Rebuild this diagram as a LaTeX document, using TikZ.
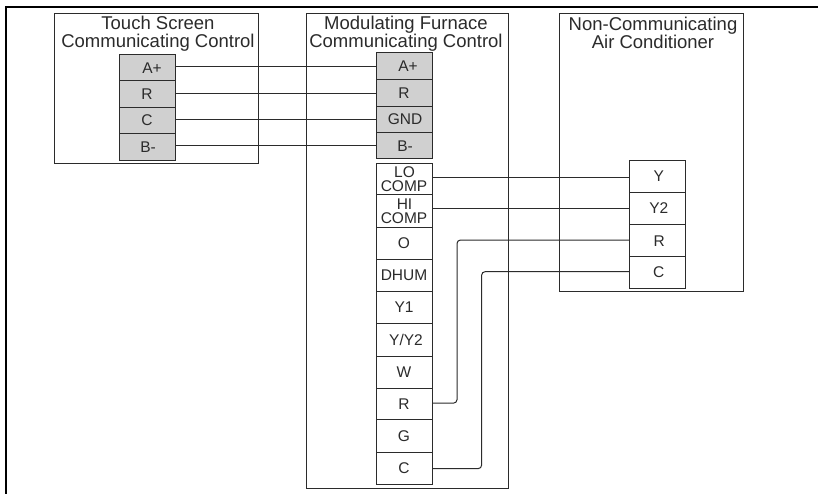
\documentclass[tikz,border=0pt]{standalone}
\usepackage{fontspec}
\setmainfont{Liberation Sans}
\definecolor{ink}{HTML}{2B2B2B}
\definecolor{termgray}{HTML}{D0D0D0}
\tikzset{
  unitbox/.style={draw=ink,line width=0.9pt,inner sep=0pt,outer sep=0pt,anchor=north west},
  unittitle/.style={inner sep=0pt,text=ink,align=center,anchor=center,font=\fontsize{18.5}{18}\selectfont},
  term/.style={draw=ink,line width=1pt,inner sep=0pt,outer sep=0pt,anchor=north west,minimum width=56pt,text=ink,align=center,font=\fontsize{15.5}{14}\selectfont},
  graybox/.style={term,fill=termgray},
  wire/.style={draw=ink,line width=1pt,rounded corners=3.5pt},
  frameline/.style={draw=black,line width=2pt}
}
\begin{document}
\begin{tikzpicture}[x=1pt,y=-1pt]
\useasboundingbox (0,0) rectangle (818,494);
\fill[white] (0,0) rectangle (818,494);
% outer frame
\draw[frameline] (6,494) -- (6,7.3) -- (818,7.3);
% unit boxes
\node[unitbox,minimum width=204.5pt,minimum height=150pt] (touch) at (54,13.5) {};
\node[unitbox,minimum width=202.5pt,minimum height=474.5pt] (furn) at (306,13.5) {};
\node[unitbox,minimum width=184pt,minimum height=278pt] (acu) at (559.5,13.5) {};
\node[unittitle] (touchtitle) at (158,33.8) {Touch Screen\\Communicating Control};
\node[unittitle] (furntitle) at (406,33.8) {Modulating Furnace\\Communicating Control};
\node[unittitle] (actitle) at (653,33.3) {Non-Communicating\\Air Conditioner};
% touch terminals
\node[graybox,minimum height=26pt] (ta) at (119,55) {\hspace*{10pt}A+};
\node[graybox,minimum height=26.5pt] (tr) at (119,81) {R};
\node[graybox,minimum height=26.5pt] (tc) at (119,107.5) {\raisebox{1pt}{C}};
\node[graybox,minimum height=26.7pt] (tb) at (119,134) {\hspace*{2pt}B-};
% furnace comm terminals
\node[graybox,minimum height=27pt] (fa) at (376,53) {\hspace*{8pt}A+};
\node[graybox,minimum height=26.5pt] (fr) at (376,80) {R};
\node[graybox,minimum height=26.2pt] (fg) at (376,106.5) {\hspace*{2pt}GND};
\node[graybox,minimum height=26pt] (fb) at (376,132.7) {\hspace*{2pt}B-};
% furnace low-voltage terminals
\node[term,minimum height=31.7pt] (lo) at (376,163.3) {\raisebox{-1pt}{\hspace*{1pt}LO}\\\raisebox{-1pt}{COMP}};
\node[term,minimum height=32.7pt] (hi) at (376,195) {\raisebox{-1.5pt}{\hspace*{1pt}HI}\\\raisebox{-1.5pt}{COMP}};
\node[term,minimum height=31.6pt] (oo) at (376,227.7) {O};
\node[term,minimum height=32pt] (dh) at (376,259.3) {DHUM};
\node[term,minimum height=32.4pt] (y1) at (376,291.3) {Y1};
\node[term,minimum height=32.3pt] (yy) at (376,323.7) {\hspace*{4pt}Y/Y2};
\node[term,minimum height=32pt] (ww) at (376,356) {W};
\node[term,minimum height=31.7pt] (rr) at (376,388) {R};
\node[term,minimum height=32.3pt] (gg) at (376,419.7) {G};
\node[term,minimum height=32.3pt] (cc) at (376,452) {C};
% AC terminals
\node[term,minimum height=32pt] (ay) at (629.3,160.3) {\hspace*{3pt}Y};
\node[term,minimum height=32.4pt] (ay2) at (629.3,192.3) {\hspace*{3pt}Y2};
\node[term,minimum height=32pt] (ar) at (629.3,224.7) {\hspace*{4pt}R};
\node[term,minimum height=31.6pt] (ac) at (629.3,256.7) {\hspace*{3pt}C};
% wires
\draw[wire] (ta.east |- fa.west) -- (fa.west);
\draw[wire] (tr.east |- fr.west) -- (fr.west);
\draw[wire] (tc.east |- fg.west) -- (fg.west);
\draw[wire] (tb.east |- fb.west) -- (fb.west);
\coordinate (w1) at (629.3,178);
\coordinate (w2) at (629.3,209);
\coordinate (w3) at (629.3,240);
\coordinate (w4) at (629.3,271.7);
\draw[wire] (lo.east |- w1) -- (w1);
\draw[wire] (hi.east |- w2) -- (w2);
\draw[wire] ([yshift=0.7pt]rr.east) -- ++(25,0) |- (w3);
\draw[wire] ([yshift=-0.5pt]cc.east) -- ++(49.6,0) |- (w4);
\end{tikzpicture}
\end{document}
